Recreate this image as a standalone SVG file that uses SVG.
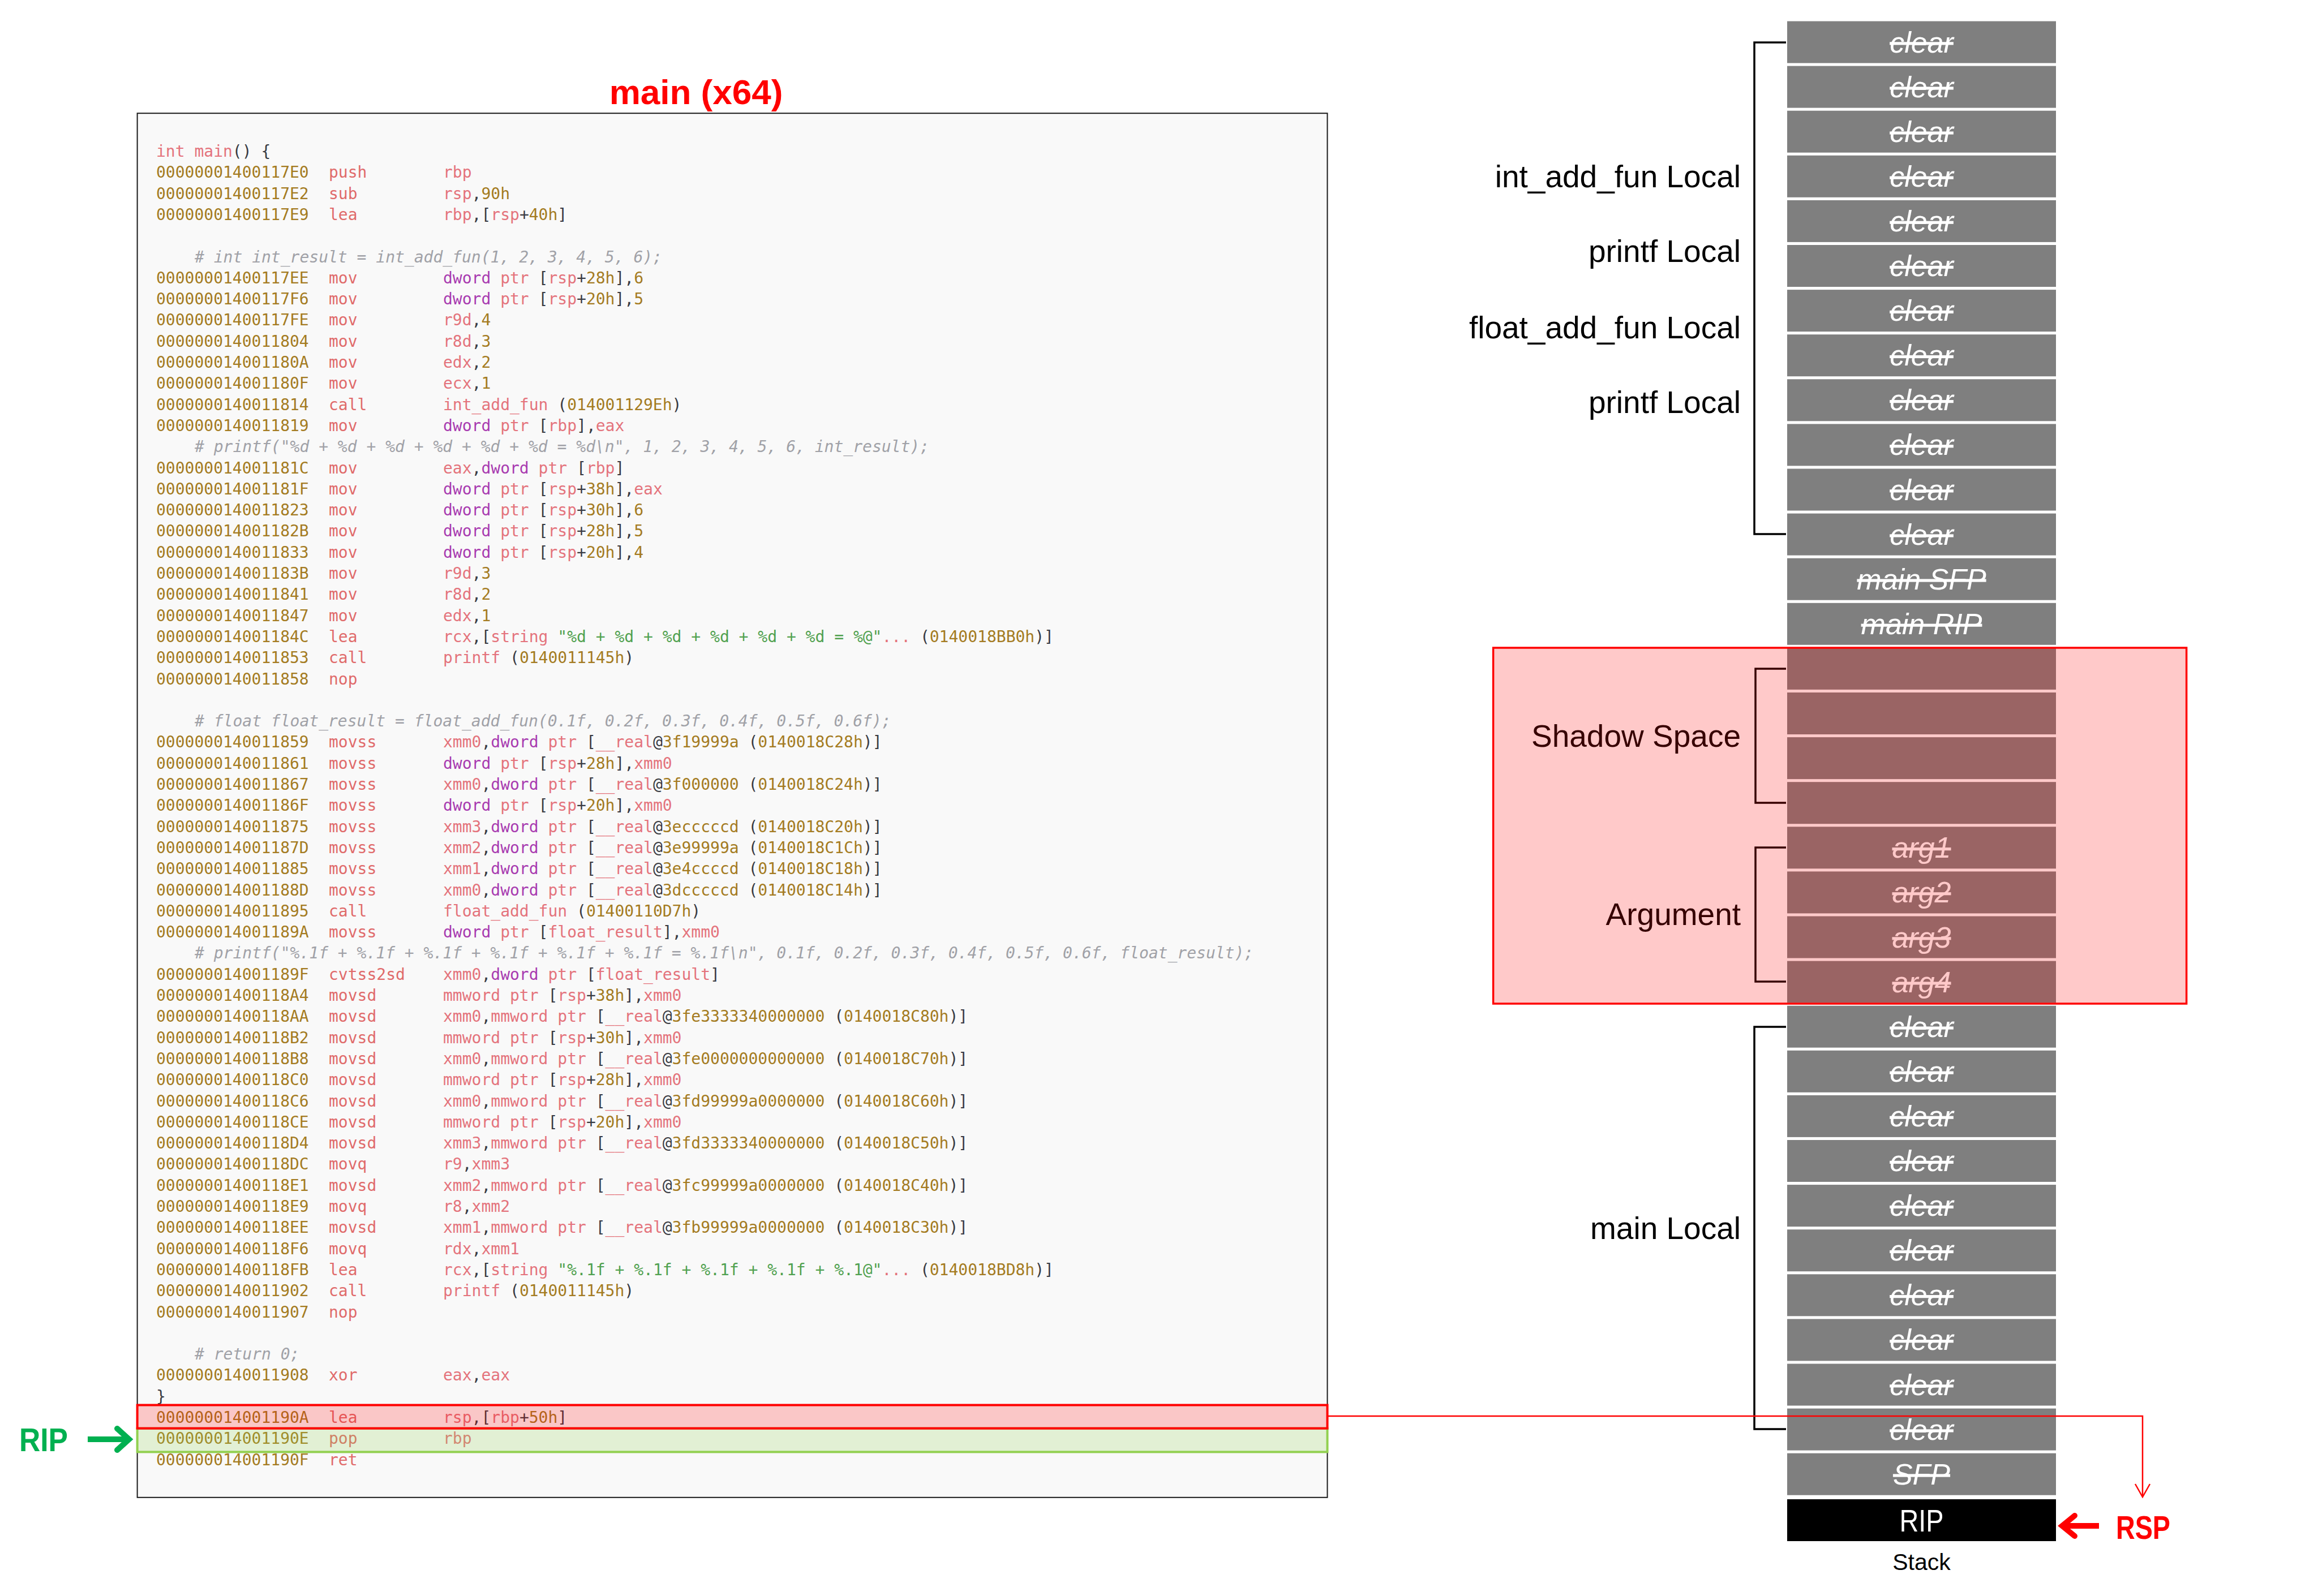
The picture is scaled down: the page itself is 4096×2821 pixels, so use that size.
<svg xmlns="http://www.w3.org/2000/svg" width="4096" height="2821" viewBox="0 0 4096 2821">
<style>
.code{font-family:"DejaVu Sans Mono","Liberation Mono",monospace;font-size:28px}
.a{fill:#A47B21}.m{fill:#E06A6A}.r{fill:#E4737C}.k{fill:#A83BB0}.n{fill:#A47B21}.p{fill:#383A42}.s{fill:#50A14F}
.c{fill:#A0A1A7;font-style:italic}
.cell{fill:#7F7F7F}
.ct{font-family:"Liberation Sans",Arial,sans-serif;font-style:italic;font-size:52px;fill:#FFFFFF;text-anchor:middle;text-decoration:line-through}
.lbl{font-family:"Liberation Sans",Arial,sans-serif;font-size:55px;fill:#000;text-anchor:end}
.br{fill:none;stroke:#000;stroke-width:3.5}
</style>
<rect width="4096" height="2821" fill="#FFFFFF"/>
<g id="title"><text x="1230" y="184" font-family="Liberation Sans,Arial,sans-serif" font-weight="bold" font-size="62" fill="#FF0000" text-anchor="middle">main (x64)</text></g>
<g id="code-panel">
<rect x="242.6" y="200.2" width="2102.9" height="2446.6" fill="#F9F9F9" stroke="#1A1A1A" stroke-width="2"/>
<g class="code">
<text y="277"><tspan x="276" class="r">int main</tspan><tspan class="p">() {</tspan></text>
<text y="314.3"><tspan x="276" class="a">00000001400117E0</tspan><tspan x="581" class="m">push</tspan><tspan x="783" class="r">rbp</tspan></text>
<text y="351.6"><tspan x="276" class="a">00000001400117E2</tspan><tspan x="581" class="m">sub</tspan><tspan x="783" class="r">rsp</tspan><tspan class="p">,</tspan><tspan class="n">90h</tspan></text>
<text y="388.9"><tspan x="276" class="a">00000001400117E9</tspan><tspan x="581" class="m">lea</tspan><tspan x="783" class="r">rbp</tspan><tspan class="p">,[</tspan><tspan class="r">rsp</tspan><tspan class="p">+</tspan><tspan class="n">40h</tspan><tspan class="p">]</tspan></text>
<text y="463.5" x="344" class="c"># int int_result = int_add_fun(1, 2, 3, 4, 5, 6);</text>
<text y="500.8"><tspan x="276" class="a">00000001400117EE</tspan><tspan x="581" class="m">mov</tspan><tspan x="783" class="k">dword</tspan><tspan class="r"> ptr</tspan><tspan class="p"> [</tspan><tspan class="r">rsp</tspan><tspan class="p">+</tspan><tspan class="n">28h</tspan><tspan class="p">],</tspan><tspan class="n">6</tspan></text>
<text y="538.1"><tspan x="276" class="a">00000001400117F6</tspan><tspan x="581" class="m">mov</tspan><tspan x="783" class="k">dword</tspan><tspan class="r"> ptr</tspan><tspan class="p"> [</tspan><tspan class="r">rsp</tspan><tspan class="p">+</tspan><tspan class="n">20h</tspan><tspan class="p">],</tspan><tspan class="n">5</tspan></text>
<text y="575.4"><tspan x="276" class="a">00000001400117FE</tspan><tspan x="581" class="m">mov</tspan><tspan x="783" class="r">r9d</tspan><tspan class="p">,</tspan><tspan class="n">4</tspan></text>
<text y="612.7"><tspan x="276" class="a">0000000140011804</tspan><tspan x="581" class="m">mov</tspan><tspan x="783" class="r">r8d</tspan><tspan class="p">,</tspan><tspan class="n">3</tspan></text>
<text y="650"><tspan x="276" class="a">000000014001180A</tspan><tspan x="581" class="m">mov</tspan><tspan x="783" class="r">edx</tspan><tspan class="p">,</tspan><tspan class="n">2</tspan></text>
<text y="687.3"><tspan x="276" class="a">000000014001180F</tspan><tspan x="581" class="m">mov</tspan><tspan x="783" class="r">ecx</tspan><tspan class="p">,</tspan><tspan class="n">1</tspan></text>
<text y="724.6"><tspan x="276" class="a">0000000140011814</tspan><tspan x="581" class="m">call</tspan><tspan x="783" class="r">int_add_fun</tspan><tspan class="p"> (</tspan><tspan class="n">014001129Eh</tspan><tspan class="p">)</tspan></text>
<text y="761.9"><tspan x="276" class="a">0000000140011819</tspan><tspan x="581" class="m">mov</tspan><tspan x="783" class="k">dword</tspan><tspan class="r"> ptr</tspan><tspan class="p"> [</tspan><tspan class="r">rbp</tspan><tspan class="p">],</tspan><tspan class="r">eax</tspan></text>
<text y="799.2" x="344" class="c"># printf("%d + %d + %d + %d + %d + %d = %d\n", 1, 2, 3, 4, 5, 6, int_result);</text>
<text y="836.5"><tspan x="276" class="a">000000014001181C</tspan><tspan x="581" class="m">mov</tspan><tspan x="783" class="r">eax</tspan><tspan class="p">,</tspan><tspan class="k">dword</tspan><tspan class="r"> ptr</tspan><tspan class="p"> [</tspan><tspan class="r">rbp</tspan><tspan class="p">]</tspan></text>
<text y="873.8"><tspan x="276" class="a">000000014001181F</tspan><tspan x="581" class="m">mov</tspan><tspan x="783" class="k">dword</tspan><tspan class="r"> ptr</tspan><tspan class="p"> [</tspan><tspan class="r">rsp</tspan><tspan class="p">+</tspan><tspan class="n">38h</tspan><tspan class="p">],</tspan><tspan class="r">eax</tspan></text>
<text y="911.1"><tspan x="276" class="a">0000000140011823</tspan><tspan x="581" class="m">mov</tspan><tspan x="783" class="k">dword</tspan><tspan class="r"> ptr</tspan><tspan class="p"> [</tspan><tspan class="r">rsp</tspan><tspan class="p">+</tspan><tspan class="n">30h</tspan><tspan class="p">],</tspan><tspan class="n">6</tspan></text>
<text y="948.4"><tspan x="276" class="a">000000014001182B</tspan><tspan x="581" class="m">mov</tspan><tspan x="783" class="k">dword</tspan><tspan class="r"> ptr</tspan><tspan class="p"> [</tspan><tspan class="r">rsp</tspan><tspan class="p">+</tspan><tspan class="n">28h</tspan><tspan class="p">],</tspan><tspan class="n">5</tspan></text>
<text y="985.7"><tspan x="276" class="a">0000000140011833</tspan><tspan x="581" class="m">mov</tspan><tspan x="783" class="k">dword</tspan><tspan class="r"> ptr</tspan><tspan class="p"> [</tspan><tspan class="r">rsp</tspan><tspan class="p">+</tspan><tspan class="n">20h</tspan><tspan class="p">],</tspan><tspan class="n">4</tspan></text>
<text y="1023"><tspan x="276" class="a">000000014001183B</tspan><tspan x="581" class="m">mov</tspan><tspan x="783" class="r">r9d</tspan><tspan class="p">,</tspan><tspan class="n">3</tspan></text>
<text y="1060.3"><tspan x="276" class="a">0000000140011841</tspan><tspan x="581" class="m">mov</tspan><tspan x="783" class="r">r8d</tspan><tspan class="p">,</tspan><tspan class="n">2</tspan></text>
<text y="1097.6"><tspan x="276" class="a">0000000140011847</tspan><tspan x="581" class="m">mov</tspan><tspan x="783" class="r">edx</tspan><tspan class="p">,</tspan><tspan class="n">1</tspan></text>
<text y="1134.9"><tspan x="276" class="a">000000014001184C</tspan><tspan x="581" class="m">lea</tspan><tspan x="783" class="r">rcx</tspan><tspan class="p">,[</tspan><tspan class="r">string</tspan><tspan class="s"> "%d + %d + %d + %d + %d + %d = %@"</tspan><tspan class="r">...</tspan><tspan class="p"> (</tspan><tspan class="n">0140018BB0h</tspan><tspan class="p">)]</tspan></text>
<text y="1172.2"><tspan x="276" class="a">0000000140011853</tspan><tspan x="581" class="m">call</tspan><tspan x="783" class="r">printf</tspan><tspan class="p"> (</tspan><tspan class="n">0140011145h</tspan><tspan class="p">)</tspan></text>
<text y="1209.5"><tspan x="276" class="a">0000000140011858</tspan><tspan x="581" class="m">nop</tspan></text>
<text y="1284.1" x="344" class="c"># float float_result = float_add_fun(0.1f, 0.2f, 0.3f, 0.4f, 0.5f, 0.6f);</text>
<text y="1321.4"><tspan x="276" class="a">0000000140011859</tspan><tspan x="581" class="m">movss</tspan><tspan x="783" class="r">xmm0</tspan><tspan class="p">,</tspan><tspan class="k">dword</tspan><tspan class="r"> ptr</tspan><tspan class="p"> [</tspan><tspan class="r">__real</tspan><tspan class="p">@</tspan><tspan class="n">3f19999a</tspan><tspan class="p"> (</tspan><tspan class="n">0140018C28h</tspan><tspan class="p">)]</tspan></text>
<text y="1358.7"><tspan x="276" class="a">0000000140011861</tspan><tspan x="581" class="m">movss</tspan><tspan x="783" class="k">dword</tspan><tspan class="r"> ptr</tspan><tspan class="p"> [</tspan><tspan class="r">rsp</tspan><tspan class="p">+</tspan><tspan class="n">28h</tspan><tspan class="p">],</tspan><tspan class="r">xmm0</tspan></text>
<text y="1396"><tspan x="276" class="a">0000000140011867</tspan><tspan x="581" class="m">movss</tspan><tspan x="783" class="r">xmm0</tspan><tspan class="p">,</tspan><tspan class="k">dword</tspan><tspan class="r"> ptr</tspan><tspan class="p"> [</tspan><tspan class="r">__real</tspan><tspan class="p">@</tspan><tspan class="n">3f000000</tspan><tspan class="p"> (</tspan><tspan class="n">0140018C24h</tspan><tspan class="p">)]</tspan></text>
<text y="1433.3"><tspan x="276" class="a">000000014001186F</tspan><tspan x="581" class="m">movss</tspan><tspan x="783" class="k">dword</tspan><tspan class="r"> ptr</tspan><tspan class="p"> [</tspan><tspan class="r">rsp</tspan><tspan class="p">+</tspan><tspan class="n">20h</tspan><tspan class="p">],</tspan><tspan class="r">xmm0</tspan></text>
<text y="1470.6"><tspan x="276" class="a">0000000140011875</tspan><tspan x="581" class="m">movss</tspan><tspan x="783" class="r">xmm3</tspan><tspan class="p">,</tspan><tspan class="k">dword</tspan><tspan class="r"> ptr</tspan><tspan class="p"> [</tspan><tspan class="r">__real</tspan><tspan class="p">@</tspan><tspan class="n">3ecccccd</tspan><tspan class="p"> (</tspan><tspan class="n">0140018C20h</tspan><tspan class="p">)]</tspan></text>
<text y="1507.9"><tspan x="276" class="a">000000014001187D</tspan><tspan x="581" class="m">movss</tspan><tspan x="783" class="r">xmm2</tspan><tspan class="p">,</tspan><tspan class="k">dword</tspan><tspan class="r"> ptr</tspan><tspan class="p"> [</tspan><tspan class="r">__real</tspan><tspan class="p">@</tspan><tspan class="n">3e99999a</tspan><tspan class="p"> (</tspan><tspan class="n">0140018C1Ch</tspan><tspan class="p">)]</tspan></text>
<text y="1545.2"><tspan x="276" class="a">0000000140011885</tspan><tspan x="581" class="m">movss</tspan><tspan x="783" class="r">xmm1</tspan><tspan class="p">,</tspan><tspan class="k">dword</tspan><tspan class="r"> ptr</tspan><tspan class="p"> [</tspan><tspan class="r">__real</tspan><tspan class="p">@</tspan><tspan class="n">3e4ccccd</tspan><tspan class="p"> (</tspan><tspan class="n">0140018C18h</tspan><tspan class="p">)]</tspan></text>
<text y="1582.5"><tspan x="276" class="a">000000014001188D</tspan><tspan x="581" class="m">movss</tspan><tspan x="783" class="r">xmm0</tspan><tspan class="p">,</tspan><tspan class="k">dword</tspan><tspan class="r"> ptr</tspan><tspan class="p"> [</tspan><tspan class="r">__real</tspan><tspan class="p">@</tspan><tspan class="n">3dcccccd</tspan><tspan class="p"> (</tspan><tspan class="n">0140018C14h</tspan><tspan class="p">)]</tspan></text>
<text y="1619.8"><tspan x="276" class="a">0000000140011895</tspan><tspan x="581" class="m">call</tspan><tspan x="783" class="r">float_add_fun</tspan><tspan class="p"> (</tspan><tspan class="n">01400110D7h</tspan><tspan class="p">)</tspan></text>
<text y="1657.1"><tspan x="276" class="a">000000014001189A</tspan><tspan x="581" class="m">movss</tspan><tspan x="783" class="k">dword</tspan><tspan class="r"> ptr</tspan><tspan class="p"> [</tspan><tspan class="r">float_result</tspan><tspan class="p">],</tspan><tspan class="r">xmm0</tspan></text>
<text y="1694.4" x="344" class="c"># printf("%.1f + %.1f + %.1f + %.1f + %.1f + %.1f = %.1f\n", 0.1f, 0.2f, 0.3f, 0.4f, 0.5f, 0.6f, float_result);</text>
<text y="1731.7"><tspan x="276" class="a">000000014001189F</tspan><tspan x="581" class="m">cvtss2sd</tspan><tspan x="783" class="r">xmm0</tspan><tspan class="p">,</tspan><tspan class="k">dword</tspan><tspan class="r"> ptr</tspan><tspan class="p"> [</tspan><tspan class="r">float_result</tspan><tspan class="p">]</tspan></text>
<text y="1769"><tspan x="276" class="a">00000001400118A4</tspan><tspan x="581" class="m">movsd</tspan><tspan x="783" class="r">mmword ptr</tspan><tspan class="p"> [</tspan><tspan class="r">rsp</tspan><tspan class="p">+</tspan><tspan class="n">38h</tspan><tspan class="p">],</tspan><tspan class="r">xmm0</tspan></text>
<text y="1806.3"><tspan x="276" class="a">00000001400118AA</tspan><tspan x="581" class="m">movsd</tspan><tspan x="783" class="r">xmm0</tspan><tspan class="p">,</tspan><tspan class="r">mmword ptr</tspan><tspan class="p"> [</tspan><tspan class="r">__real</tspan><tspan class="p">@</tspan><tspan class="n">3fe3333340000000</tspan><tspan class="p"> (</tspan><tspan class="n">0140018C80h</tspan><tspan class="p">)]</tspan></text>
<text y="1843.6"><tspan x="276" class="a">00000001400118B2</tspan><tspan x="581" class="m">movsd</tspan><tspan x="783" class="r">mmword ptr</tspan><tspan class="p"> [</tspan><tspan class="r">rsp</tspan><tspan class="p">+</tspan><tspan class="n">30h</tspan><tspan class="p">],</tspan><tspan class="r">xmm0</tspan></text>
<text y="1880.9"><tspan x="276" class="a">00000001400118B8</tspan><tspan x="581" class="m">movsd</tspan><tspan x="783" class="r">xmm0</tspan><tspan class="p">,</tspan><tspan class="r">mmword ptr</tspan><tspan class="p"> [</tspan><tspan class="r">__real</tspan><tspan class="p">@</tspan><tspan class="n">3fe0000000000000</tspan><tspan class="p"> (</tspan><tspan class="n">0140018C70h</tspan><tspan class="p">)]</tspan></text>
<text y="1918.2"><tspan x="276" class="a">00000001400118C0</tspan><tspan x="581" class="m">movsd</tspan><tspan x="783" class="r">mmword ptr</tspan><tspan class="p"> [</tspan><tspan class="r">rsp</tspan><tspan class="p">+</tspan><tspan class="n">28h</tspan><tspan class="p">],</tspan><tspan class="r">xmm0</tspan></text>
<text y="1955.5"><tspan x="276" class="a">00000001400118C6</tspan><tspan x="581" class="m">movsd</tspan><tspan x="783" class="r">xmm0</tspan><tspan class="p">,</tspan><tspan class="r">mmword ptr</tspan><tspan class="p"> [</tspan><tspan class="r">__real</tspan><tspan class="p">@</tspan><tspan class="n">3fd99999a0000000</tspan><tspan class="p"> (</tspan><tspan class="n">0140018C60h</tspan><tspan class="p">)]</tspan></text>
<text y="1992.8"><tspan x="276" class="a">00000001400118CE</tspan><tspan x="581" class="m">movsd</tspan><tspan x="783" class="r">mmword ptr</tspan><tspan class="p"> [</tspan><tspan class="r">rsp</tspan><tspan class="p">+</tspan><tspan class="n">20h</tspan><tspan class="p">],</tspan><tspan class="r">xmm0</tspan></text>
<text y="2030.1"><tspan x="276" class="a">00000001400118D4</tspan><tspan x="581" class="m">movsd</tspan><tspan x="783" class="r">xmm3</tspan><tspan class="p">,</tspan><tspan class="r">mmword ptr</tspan><tspan class="p"> [</tspan><tspan class="r">__real</tspan><tspan class="p">@</tspan><tspan class="n">3fd3333340000000</tspan><tspan class="p"> (</tspan><tspan class="n">0140018C50h</tspan><tspan class="p">)]</tspan></text>
<text y="2067.4"><tspan x="276" class="a">00000001400118DC</tspan><tspan x="581" class="m">movq</tspan><tspan x="783" class="r">r9</tspan><tspan class="p">,</tspan><tspan class="r">xmm3</tspan></text>
<text y="2104.7"><tspan x="276" class="a">00000001400118E1</tspan><tspan x="581" class="m">movsd</tspan><tspan x="783" class="r">xmm2</tspan><tspan class="p">,</tspan><tspan class="r">mmword ptr</tspan><tspan class="p"> [</tspan><tspan class="r">__real</tspan><tspan class="p">@</tspan><tspan class="n">3fc99999a0000000</tspan><tspan class="p"> (</tspan><tspan class="n">0140018C40h</tspan><tspan class="p">)]</tspan></text>
<text y="2142"><tspan x="276" class="a">00000001400118E9</tspan><tspan x="581" class="m">movq</tspan><tspan x="783" class="r">r8</tspan><tspan class="p">,</tspan><tspan class="r">xmm2</tspan></text>
<text y="2179.3"><tspan x="276" class="a">00000001400118EE</tspan><tspan x="581" class="m">movsd</tspan><tspan x="783" class="r">xmm1</tspan><tspan class="p">,</tspan><tspan class="r">mmword ptr</tspan><tspan class="p"> [</tspan><tspan class="r">__real</tspan><tspan class="p">@</tspan><tspan class="n">3fb99999a0000000</tspan><tspan class="p"> (</tspan><tspan class="n">0140018C30h</tspan><tspan class="p">)]</tspan></text>
<text y="2216.6"><tspan x="276" class="a">00000001400118F6</tspan><tspan x="581" class="m">movq</tspan><tspan x="783" class="r">rdx</tspan><tspan class="p">,</tspan><tspan class="r">xmm1</tspan></text>
<text y="2253.9"><tspan x="276" class="a">00000001400118FB</tspan><tspan x="581" class="m">lea</tspan><tspan x="783" class="r">rcx</tspan><tspan class="p">,[</tspan><tspan class="r">string</tspan><tspan class="s"> "%.1f + %.1f + %.1f + %.1f + %.1@"</tspan><tspan class="r">...</tspan><tspan class="p"> (</tspan><tspan class="n">0140018BD8h</tspan><tspan class="p">)]</tspan></text>
<text y="2291.2"><tspan x="276" class="a">0000000140011902</tspan><tspan x="581" class="m">call</tspan><tspan x="783" class="r">printf</tspan><tspan class="p"> (</tspan><tspan class="n">0140011145h</tspan><tspan class="p">)</tspan></text>
<text y="2328.5"><tspan x="276" class="a">0000000140011907</tspan><tspan x="581" class="m">nop</tspan></text>
<text y="2403.1" x="344" class="c"># return 0;</text>
<text y="2440.4"><tspan x="276" class="a">0000000140011908</tspan><tspan x="581" class="m">xor</tspan><tspan x="783" class="r">eax</tspan><tspan class="p">,</tspan><tspan class="r">eax</tspan></text>
<text y="2477.7" x="276" class="p">}</text>
<text y="2515"><tspan x="276" class="a">000000014001190A</tspan><tspan x="581" class="m">lea</tspan><tspan x="783" class="r">rsp</tspan><tspan class="p">,[</tspan><tspan class="r">rbp</tspan><tspan class="p">+</tspan><tspan class="n">50h</tspan><tspan class="p">]</tspan></text>
<text y="2552.3"><tspan x="276" class="a">000000014001190E</tspan><tspan x="581" class="m">pop</tspan><tspan x="783" class="r">rbp</tspan></text>
<text y="2589.6"><tspan x="276" class="a">000000014001190F</tspan><tspan x="581" class="m">ret</tspan></text>
</g>
<rect id="rip-row" x="242.6" y="2524.7" width="2102.9" height="41.7" fill="#92D050" fill-opacity="0.22" stroke="#92D050" stroke-width="4"/>
<rect id="lea-row" x="242.6" y="2483.5" width="2102.9" height="41.2" fill="#FF0000" fill-opacity="0.2" stroke="#FF0000" stroke-width="4"/>
</g>
<g id="rip-pointer">
<text x="34" y="2565" font-family="Liberation Sans,Arial,sans-serif" font-weight="bold" font-size="58" fill="#00B050" textLength="86" lengthAdjust="spacingAndGlyphs">RIP</text>
<line x1="155" y1="2544" x2="226" y2="2544" stroke="#00B050" stroke-width="10"/>
<polyline points="207,2525 228,2544 207,2563" fill="none" stroke="#00B050" stroke-width="10" stroke-linecap="round"/>
</g>
<g id="stack">
<g id="cell-0"><rect class="cell" x="3158" y="37.5" width="475" height="74"/><text class="ct" x="3395.5" y="92.5">clear</text></g>
<g id="cell-1"><rect class="cell" x="3158" y="116.6" width="475" height="74"/><text class="ct" x="3395.5" y="171.6">clear</text></g>
<g id="cell-2"><rect class="cell" x="3158" y="195.7" width="475" height="74"/><text class="ct" x="3395.5" y="250.7">clear</text></g>
<g id="cell-3"><rect class="cell" x="3158" y="274.8" width="475" height="74"/><text class="ct" x="3395.5" y="329.8">clear</text></g>
<g id="cell-4"><rect class="cell" x="3158" y="353.9" width="475" height="74"/><text class="ct" x="3395.5" y="408.9">clear</text></g>
<g id="cell-5"><rect class="cell" x="3158" y="433" width="475" height="74"/><text class="ct" x="3395.5" y="488">clear</text></g>
<g id="cell-6"><rect class="cell" x="3158" y="512.1" width="475" height="74"/><text class="ct" x="3395.5" y="567.1">clear</text></g>
<g id="cell-7"><rect class="cell" x="3158" y="591.2" width="475" height="74"/><text class="ct" x="3395.5" y="646.2">clear</text></g>
<g id="cell-8"><rect class="cell" x="3158" y="670.3" width="475" height="74"/><text class="ct" x="3395.5" y="725.3">clear</text></g>
<g id="cell-9"><rect class="cell" x="3158" y="749.4" width="475" height="74"/><text class="ct" x="3395.5" y="804.4">clear</text></g>
<g id="cell-10"><rect class="cell" x="3158" y="828.5" width="475" height="74"/><text class="ct" x="3395.5" y="883.5">clear</text></g>
<g id="cell-11"><rect class="cell" x="3158" y="907.6" width="475" height="74"/><text class="ct" x="3395.5" y="962.6">clear</text></g>
<g id="cell-main-sfp"><rect class="cell" x="3158" y="986.7" width="475" height="74"/><text class="ct" x="3395.5" y="1041.7">main SFP</text></g>
<g id="cell-main-rip"><rect class="cell" x="3158" y="1065.8" width="475" height="74"/><text class="ct" x="3395.5" y="1120.8">main RIP</text></g>
<g id="cell-shadow-1"><rect class="cell" x="3158" y="1144.9" width="475" height="74"/></g>
<g id="cell-shadow-2"><rect class="cell" x="3158" y="1224" width="475" height="74"/></g>
<g id="cell-shadow-3"><rect class="cell" x="3158" y="1303.1" width="475" height="74"/></g>
<g id="cell-shadow-4"><rect class="cell" x="3158" y="1382.2" width="475" height="74"/></g>
<g id="cell-arg1"><rect class="cell" x="3158" y="1461.3" width="475" height="74"/><text class="ct" x="3395.5" y="1516.3">arg1</text></g>
<g id="cell-arg2"><rect class="cell" x="3158" y="1540.4" width="475" height="74"/><text class="ct" x="3395.5" y="1595.4">arg2</text></g>
<g id="cell-arg3"><rect class="cell" x="3158" y="1619.5" width="475" height="74"/><text class="ct" x="3395.5" y="1674.5">arg3</text></g>
<g id="cell-arg4"><rect class="cell" x="3158" y="1698.6" width="475" height="74"/><text class="ct" x="3395.5" y="1753.6">arg4</text></g>
<g id="cell-22"><rect class="cell" x="3158" y="1777.7" width="475" height="74"/><text class="ct" x="3395.5" y="1832.7">clear</text></g>
<g id="cell-23"><rect class="cell" x="3158" y="1856.8" width="475" height="74"/><text class="ct" x="3395.5" y="1911.8">clear</text></g>
<g id="cell-24"><rect class="cell" x="3158" y="1935.9" width="475" height="74"/><text class="ct" x="3395.5" y="1990.9">clear</text></g>
<g id="cell-25"><rect class="cell" x="3158" y="2015" width="475" height="74"/><text class="ct" x="3395.5" y="2070">clear</text></g>
<g id="cell-26"><rect class="cell" x="3158" y="2094.1" width="475" height="74"/><text class="ct" x="3395.5" y="2149.1">clear</text></g>
<g id="cell-27"><rect class="cell" x="3158" y="2173.2" width="475" height="74"/><text class="ct" x="3395.5" y="2228.2">clear</text></g>
<g id="cell-28"><rect class="cell" x="3158" y="2252.3" width="475" height="74"/><text class="ct" x="3395.5" y="2307.3">clear</text></g>
<g id="cell-29"><rect class="cell" x="3158" y="2331.4" width="475" height="74"/><text class="ct" x="3395.5" y="2386.4">clear</text></g>
<g id="cell-30"><rect class="cell" x="3158" y="2410.5" width="475" height="74"/><text class="ct" x="3395.5" y="2465.5">clear</text></g>
<g id="cell-31"><rect class="cell" x="3158" y="2489.6" width="475" height="74"/><text class="ct" x="3395.5" y="2544.6">clear</text></g>
<g id="cell-sfp"><rect class="cell" x="3158" y="2568.7" width="475" height="74"/><text class="ct" x="3395.5" y="2623.7">SFP</text></g>
<g id="cell-rip"><rect x="3158" y="2650" width="475" height="74" fill="#000"/><text x="3395.5" y="2707" font-family="Liberation Sans,Arial,sans-serif" font-size="56" fill="#FFF" text-anchor="middle" textLength="78" lengthAdjust="spacingAndGlyphs">RIP</text></g>
<text id="stack-label" x="3395.5" y="2775" font-family="Liberation Sans,Arial,sans-serif" font-size="41" fill="#000" text-anchor="middle">Stack</text>
</g>
<g id="labels">
<text class="lbl" x="3076" y="331">int_add_fun Local</text>
<text class="lbl" x="3076" y="463">printf Local</text>
<text class="lbl" x="3076" y="598">float_add_fun Local</text>
<text class="lbl" x="3076" y="730">printf Local</text>
<text class="lbl" x="3076" y="1320">Shadow Space</text>
<text class="lbl" x="3076" y="1635">Argument</text>
<text class="lbl" x="3076" y="2190">main Local</text>
<polyline class="br" points="3156,75 3100,75 3100,944 3156,944"/>
<polyline class="br" points="3156,1182 3102,1182 3102,1419 3156,1419"/>
<polyline class="br" points="3156,1498 3102,1498 3102,1735 3156,1735"/>
<polyline class="br" points="3156,1815 3100,1815 3100,2526 3156,2526"/>
</g>
<rect id="call-frame-highlight" x="2638.6" y="1145" width="1225" height="629" fill="#FF0000" fill-opacity="0.21" stroke="#FF0000" stroke-width="3.5"/>
<g id="rsp-pointer">
<text x="3739" y="2720" font-family="Liberation Sans,Arial,sans-serif" font-weight="bold" font-size="58" fill="#FF0000" textLength="96" lengthAdjust="spacingAndGlyphs">RSP</text>
<line x1="3646" y1="2697" x2="3709" y2="2697" stroke="#FF0000" stroke-width="10"/>
<polyline points="3666,2679 3644,2697 3666,2715" fill="none" stroke="#FF0000" stroke-width="10" stroke-linecap="round"/>
</g>
<g id="connectors">
<polyline points="2347,2503 3786,2503 3786,2645" fill="none" stroke="#FF0000" stroke-width="2.5"/>
<polyline points="3773,2623 3786,2646 3799,2623" fill="none" stroke="#FF0000" stroke-width="2.5"/>
</g>
</svg>
